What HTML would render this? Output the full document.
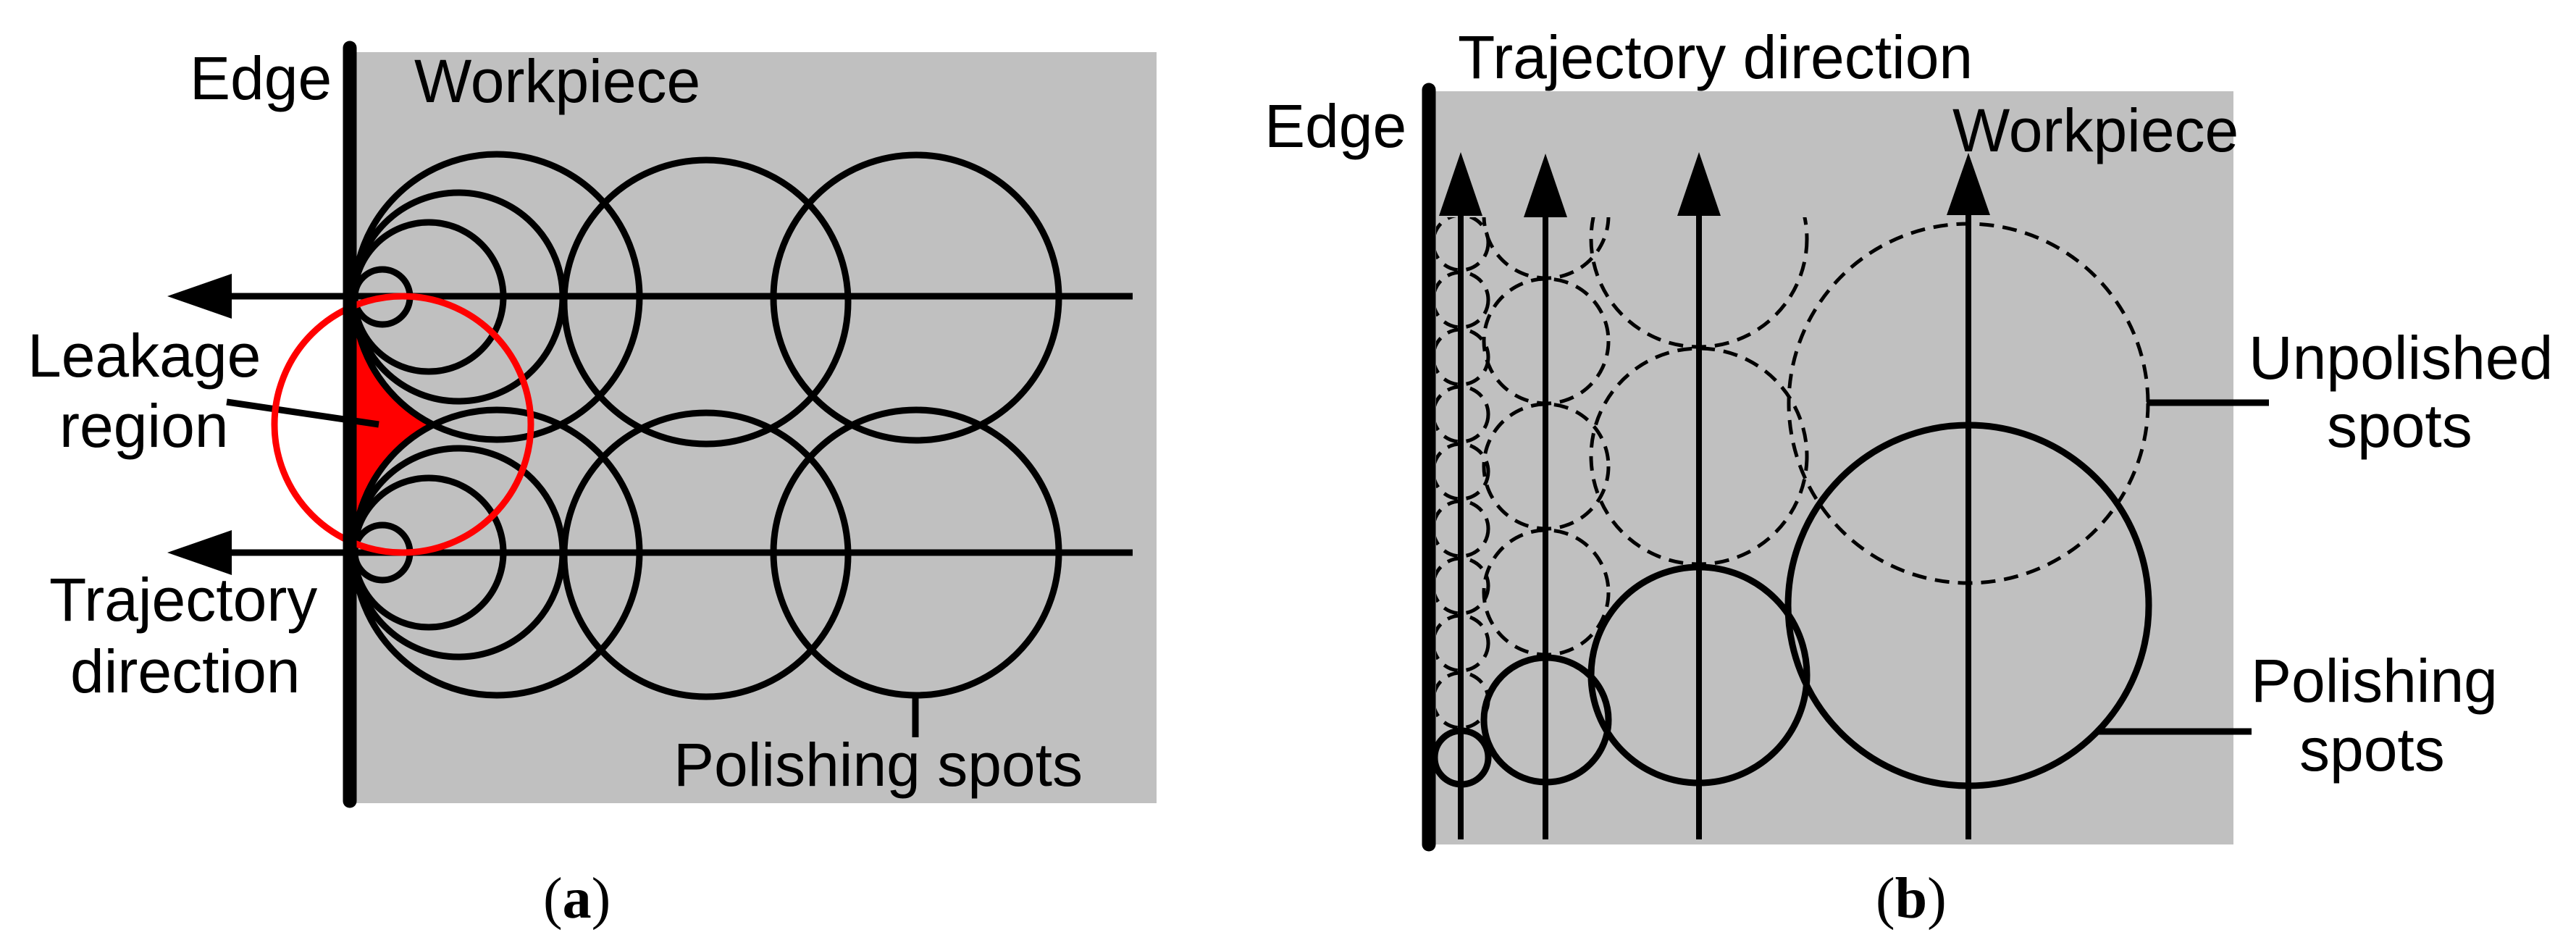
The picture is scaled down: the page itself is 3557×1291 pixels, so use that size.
<!DOCTYPE html>
<html><head><meta charset="utf-8"><style>
html,body{margin:0;padding:0;background:#fff;}
svg{display:block;}
text{font-family:"Liberation Sans",Arial,sans-serif;font-size:84px;fill:#000;}
.cap{font-family:"Liberation Serif",serif;font-size:80px;}
</style></head><body>
<svg width="3557" height="1291" viewBox="0 0 3557 1291" xmlns="http://www.w3.org/2000/svg">
<defs>
<clipPath id="cb"><rect x="1983" y="300" width="1200" height="900"/></clipPath>
</defs>
<!-- Panel A -->
<rect x="490" y="72" width="1107" height="1037" fill="#c0c0c0"/>
<path d="M490,410 A197,197 0 0 0 598,586 A197,197 0 0 0 490,763 Z" fill="#ff0000"/>
<g fill="none" stroke="#000" stroke-width="9">
<circle cx="528" cy="410" r="38"/><circle cx="592" cy="410" r="103"/><circle cx="633" cy="410" r="144"/><circle cx="686" cy="410" r="197"/>
<circle cx="975" cy="417" r="196"/><circle cx="1265" cy="411" r="197"/>
<circle cx="528" cy="763" r="38"/><circle cx="592" cy="763" r="103"/><circle cx="633" cy="763" r="144"/><circle cx="686" cy="763" r="197"/>
<circle cx="975" cy="766" r="196"/><circle cx="1265" cy="763" r="197"/>
<line x1="300" y1="409" x2="1564" y2="409"/>
<line x1="300" y1="763" x2="1564" y2="763"/>
<line x1="1264" y1="960" x2="1264" y2="1018"/>
<line x1="313" y1="555" x2="523" y2="586"/>
</g>
<polygon points="231,409 320,378 320,440" fill="#000"/>
<polygon points="231,763 320,732 320,794" fill="#000"/>
<circle cx="556" cy="586" r="177" fill="none" stroke="#ff0000" stroke-width="9"/>
<line x1="483" y1="66" x2="483" y2="1106" stroke="#000" stroke-width="19" stroke-linecap="round"/>
<text x="262" y="137">Edge</text>
<text x="572" y="141">Workpiece</text>
<text x="38" y="520">Leakage</text>
<text x="82" y="617">region</text>
<text x="68" y="857">Trajectory</text>
<text x="97" y="956">direction</text>
<text x="930" y="1085">Polishing spots</text>
<text class="cap" x="750" y="1267">(<tspan font-weight="bold">a</tspan>)</text>

<!-- Panel B -->
<rect x="1976" y="126" width="1108" height="1040" fill="#c0c0c0"/>
<g clip-path="url(#cb)" fill="none" stroke="#000" stroke-width="5" stroke-dasharray="20 12">
<circle cx="2017" cy="967" r="38"/><circle cx="2017" cy="888" r="38"/><circle cx="2017" cy="809" r="38"/><circle cx="2017" cy="730" r="38"/><circle cx="2017" cy="651" r="38"/><circle cx="2017" cy="572" r="38"/><circle cx="2017" cy="493" r="38"/><circle cx="2017" cy="414" r="38"/><circle cx="2017" cy="335" r="38"/>
<circle cx="2135" cy="818" r="86"/><circle cx="2135" cy="644" r="86"/><circle cx="2135" cy="471" r="86"/><circle cx="2135" cy="298" r="86"/>
<circle cx="2346" cy="630" r="149"/><circle cx="2346" cy="330" r="149"/>
<circle cx="2718" cy="557" r="248"/>
</g>
<g fill="none" stroke="#000" stroke-width="9">
<circle cx="2018" cy="1046" r="37"/>
<circle cx="2135" cy="994" r="86"/>
<circle cx="2346" cy="932" r="149"/>
<circle cx="2718" cy="836" r="249"/>
<line x1="2964" y1="556" x2="3133" y2="556"/>
<line x1="2897" y1="1010" x2="3109" y2="1010"/>
</g>
<g stroke="#000" stroke-width="8">
<line x1="2017" y1="290" x2="2017" y2="1159"/>
<line x1="2134" y1="290" x2="2134" y2="1159"/>
<line x1="2346" y1="290" x2="2346" y2="1159"/>
<line x1="2718" y1="290" x2="2718" y2="1159"/>
</g>
<g fill="#000">
<polygon points="2017,210 1987,298 2047,298"/>
<polygon points="2134,212 2104,300 2164,300"/>
<polygon points="2346,210 2316,298 2376,298"/>
<polygon points="2718,211 2688,297 2748,297"/>
</g>
<line x1="1973" y1="124" x2="1973" y2="1166" stroke="#000" stroke-width="19" stroke-linecap="round"/>
<text x="2013" y="108">Trajectory direction</text>
<text x="1746" y="203">Edge</text>
<text x="2696" y="209">Workpiece</text>
<text x="3105" y="523">Unpolished</text>
<text x="3213" y="617">spots</text>
<text x="3108" y="969">Polishing</text>
<text x="3175" y="1064">spots</text>
<text class="cap" x="2590" y="1267">(<tspan font-weight="bold">b</tspan>)</text>
</svg>
</body></html>
